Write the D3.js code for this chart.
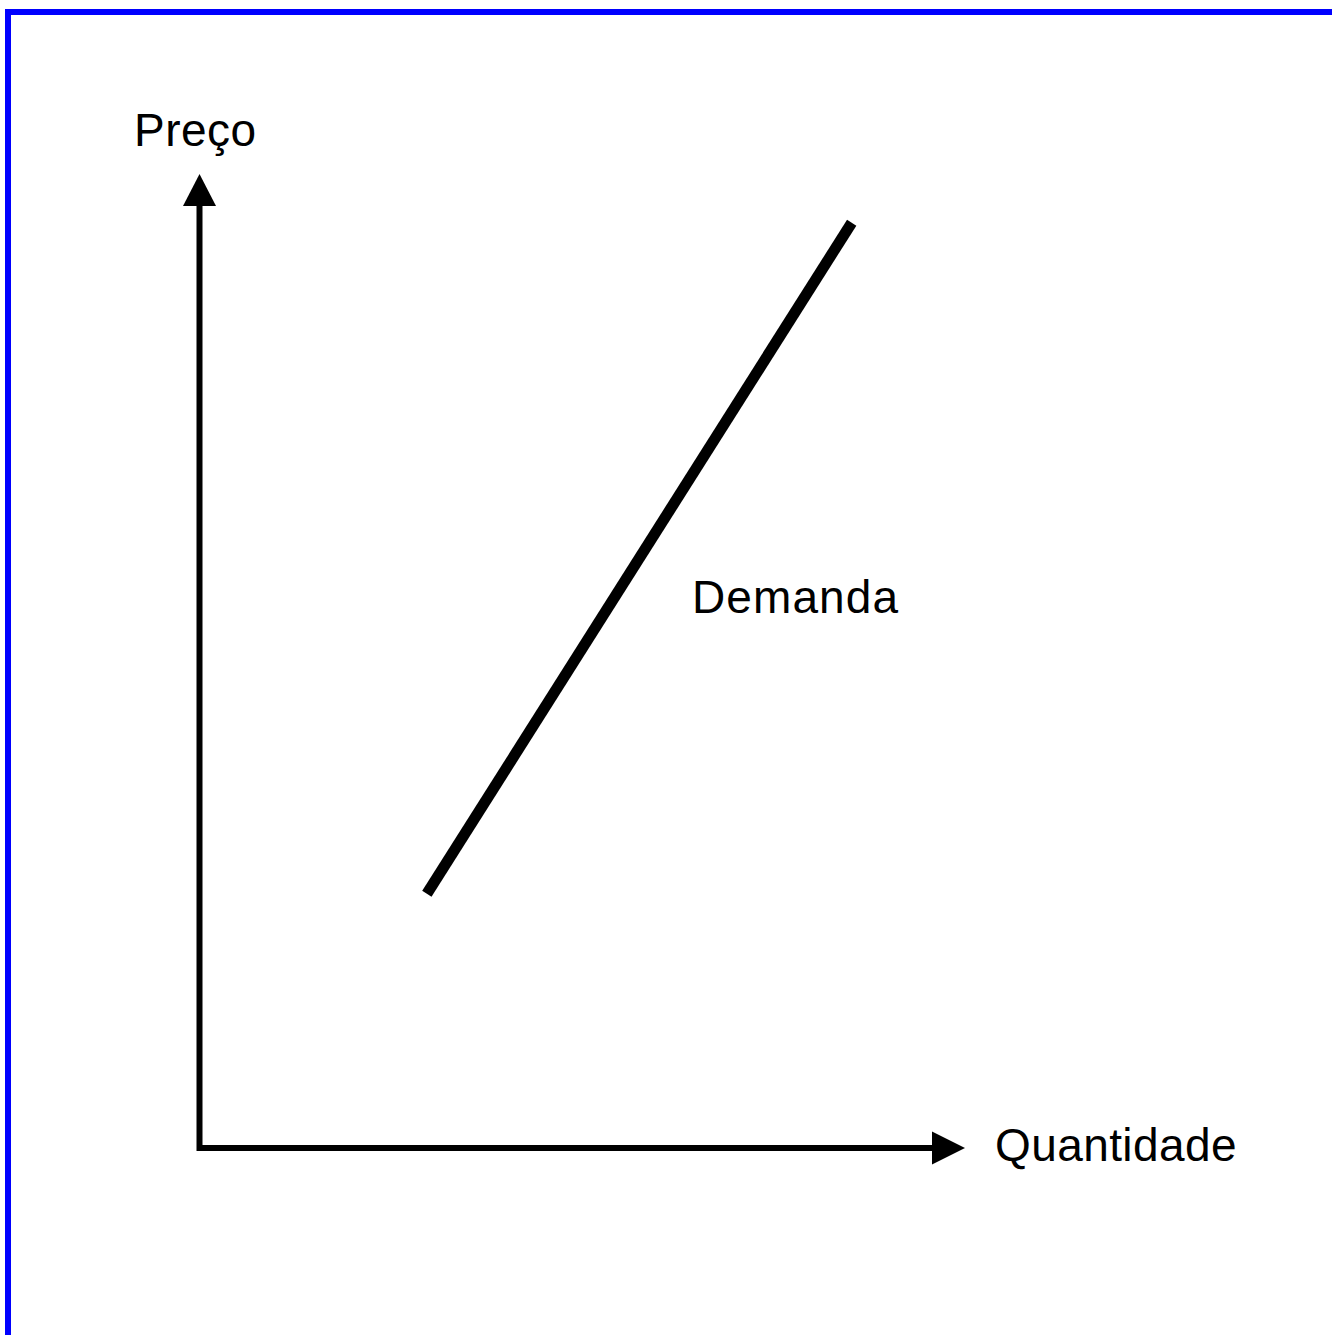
<!DOCTYPE html>
<html>
<head>
<meta charset="utf-8">
<script src="https://cdn.jsdelivr.net/npm/d3@7"></script>
<style>
  html, body { margin: 0; padding: 0; background: #fff; overflow: hidden; }
  svg { display: block; }
  text { font-family: "Liberation Sans", Arial, sans-serif; fill: #000; }
</style>
</head>
<body>
<svg id="chart" width="1332" height="1335"></svg>
<script>
// ---- data ----
const axisLabels = { x: "Quantidade", y: "Preço" };
const curveName = ["Demanda"];
const demandQ = [29.7, 85.2];   // quantity (0-100 scale to arrow tip)
const demandP = [26.1, 95.0];   // price (0-100 scale to arrow tip)

const W = 1332, H = 1335;
const svg = d3.select("#chart");

// blue frame
svg.append("rect")
  .attr("x", 8).attr("y", 12)
  .attr("width", 1400).attr("height", 1400)
  .attr("fill", "none").attr("stroke", "#0000ff").attr("stroke-width", 6);

const x = d3.scaleLinear().domain([0, 100]).range([199.5, 965]);
const y = d3.scaleLinear().domain([0, 100]).range([1148, 174]);

const g = svg.append("g");

// axes lines
const arrowLen = 33, arrowHalf = 16.5;
g.append("line")
  .attr("x1", x(0)).attr("y1", y(0) + 3)
  .attr("x2", x(0)).attr("y2", y(100) + arrowLen - 1)
  .attr("stroke", "#000").attr("stroke-width", 6);
g.append("line")
  .attr("x1", x(0) - 1.5).attr("y1", y(0))
  .attr("x2", x(100) - arrowLen + 1).attr("y2", y(0))
  .attr("stroke", "#000").attr("stroke-width", 6);

// arrowheads
g.append("path")
  .attr("d", d3.line()([[x(0), y(100)], [x(0) - arrowHalf, y(100) + arrowLen - 1], [x(0) + arrowHalf, y(100) + arrowLen - 1]]) + "Z")
  .attr("fill", "#000");
g.append("path")
  .attr("d", d3.line()([[x(100), y(0)], [x(100) - arrowLen, y(0) - arrowHalf], [x(100) - arrowLen, y(0) + arrowHalf]]) + "Z")
  .attr("fill", "#000");

// demand line
const pts = demandQ.map((q, i) => [x(q), y(demandP[i])]);
g.append("path")
  .attr("d", d3.line()(pts))
  .attr("fill", "none").attr("stroke", "#000").attr("stroke-width", 11)
  .attr("stroke-linecap", "butt");

// labels
g.append("text").attr("x", 134).attr("y", 146)
  .attr("font-size", 46).attr("letter-spacing", 0.5).text(axisLabels.y);
g.append("text").attr("x", 995).attr("y", 1161)
  .attr("font-size", 46).attr("letter-spacing", 0.4).text(axisLabels.x);
g.append("text").attr("x", 692).attr("y", 613)
  .attr("font-size", 46).attr("letter-spacing", 1.1).text(curveName[0]);
</script>
</body>
</html>
